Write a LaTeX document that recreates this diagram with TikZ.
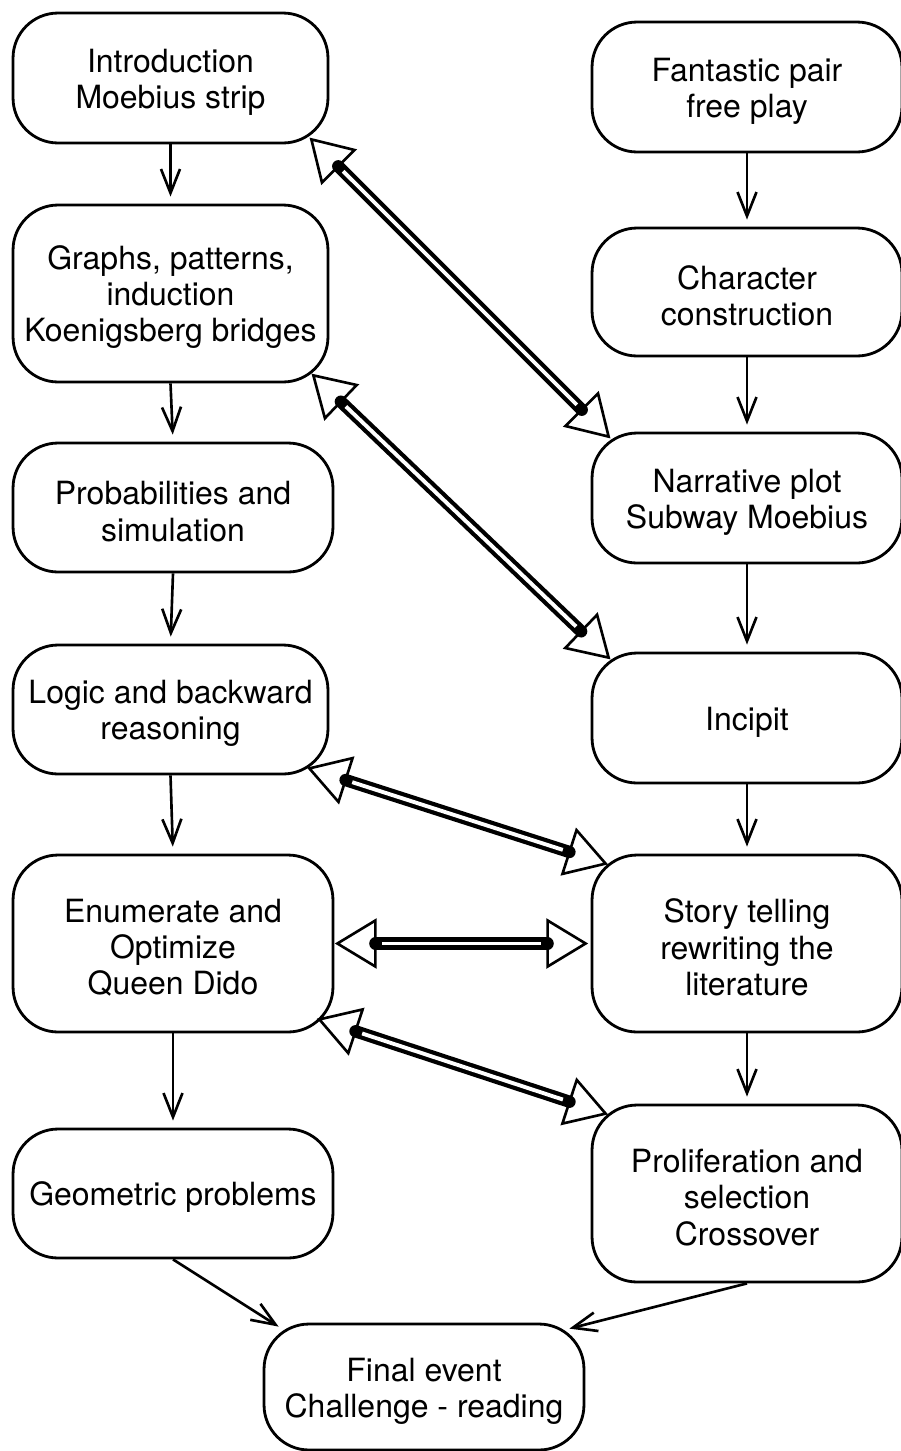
\documentclass[tikz,border=0pt]{standalone}
\usepackage{fontspec}
\setmainfont{TeX Gyre Heros}
\usetikzlibrary{arrows.meta,calc}
\newcommand{\tp}{\rule{0pt}{0.63cm}}
\newcommand{\dblarr}[2]{%
  \draw[dhead] (#1) -- ($(#1)!0.888cm!31.2:(#2)$) -- ($(#1)!0.888cm!-31.2:(#2)$) -- cycle;
  \draw[dhead] (#2) -- ($(#2)!0.888cm!31.2:(#1)$) -- ($(#2)!0.888cm!-31.2:(#1)$) -- cycle;
  \draw[dshaft] ($(#1)!0.76cm!(#2)$) -- ($(#2)!0.76cm!(#1)$);
  \draw[dinner] ($(#1)!0.9cm!(#2)$) -- ($(#2)!0.9cm!(#1)$);
}
\tikzset{
  box/.style={draw, line width=1.6pt, rounded corners=0.9cm, align=center, inner sep=0pt,
    font=\fontsize{18.2}{20.6}\selectfont},
  arr/.style={line width=1.5pt, -{Straight Barb[length=0.48cm,width=0.38cm]}, shorten >=0.14cm},
  arrd/.style={line width=1.5pt, -{Straight Barb[length=0.48cm,width=0.38cm]}},
  dhead/.style={draw, fill=white, line width=1.5pt, line join=miter},
  dshaft/.style={line width=7pt, line cap=round},
  dinner/.style={white, line width=2.2pt},
}
\begin{document}
\begin{tikzpicture}[x=0.02cm, y=-0.02cm]
\useasboundingbox (0,0) rectangle (901,1451);
% left column
\node[box, minimum width=6.3cm, minimum height=2.6cm] (intro) at (170.5,78) {\tp Introduction\\Moebius strip};
\node[box, minimum width=6.3cm, minimum height=3.54cm] (graphs) at (170.5,293.5) {\tp Graphs, patterns,\\induction\\Koenigsberg bridges};
\node[box, minimum width=6.4cm, minimum height=2.58cm] (prob) at (173,507.5) {\tp Probabilities and\\simulation};
\node[box, minimum width=6.3cm, minimum height=2.58cm] (logic) at (170.5,709.5) {\tp Logic and backward\\reasoning};
\node[box, minimum width=6.4cm, minimum height=3.54cm] (enum) at (173,943.5) {\tp Enumerate and\\Optimize\\Queen Dido};
\node[box, minimum width=6.4cm, minimum height=2.58cm] (geom) at (173,1193.5) {\tp Geometric problems};
% right column
\node[box, minimum width=6.2cm, minimum height=2.6cm] (fant) at (747,87) {\tp Fantastic pair\\free play};
\node[box, minimum width=6.2cm, minimum height=2.56cm] (char) at (747,292) {\tp Character\\construction};
\node[box, minimum width=6.2cm, minimum height=2.6cm] (narr) at (747,498) {\tp Narrative plot\\Subway Moebius};
\node[box, minimum width=6.2cm, minimum height=2.6cm] (incip) at (747,718) {\tp Incipit};
\node[box, minimum width=6.2cm, minimum height=3.54cm] (story) at (747,943.5) {\tp Story telling\\rewriting the\\literature};
\node[box, minimum width=6.2cm, minimum height=3.54cm] (prolif) at (747,1193.5) {\tp Proliferation and\\selection\\Crossover};
% final
\node[box, minimum width=6.4cm, minimum height=2.52cm] (final) at (424,1387) {\tp Final event\\Challenge - reading};
% simple arrows
\draw[arr] (intro.south) -- (graphs.north);
\draw[arr] (graphs.south) -- (prob.north);
\draw[arr] (prob.south) -- (logic.north);
\draw[arr] (logic.south) -- (enum.north);
\draw[arr] (enum.south) -- (geom.north);
\draw[arr] (fant.south) -- (char.north);
\draw[arr] (char.south) -- (narr.north);
\draw[arr] (narr.south) -- (incip.north);
\draw[arr] (incip.south) -- (story.north);
\draw[arr] (story.south) -- (prolif.north);
\draw[arrd] (geom.south) -- ([shift={(16,4)}]final.north west);
\draw[arrd] (prolif.south) -- ([shift={(-16,6)}]final.north east);
% double arrows
\coordinate (a1) at ([shift={(-18,-5)}]intro.south east);
\coordinate (b1) at ([shift={(18,5)}]narr.north west);
\coordinate (a2) at ([shift={(-16,-8)}]graphs.south east);
\coordinate (b2) at ([shift={(18,6)}]incip.north west);
\coordinate (a3) at ([shift={(-20,-7)}]logic.south east);
\coordinate (b3) at ([shift={(15,10)}]story.north west);
\coordinate (a4) at ([shift={(3,0)}]enum.east);
\coordinate (b4) at ([shift={(-5,0)}]story.west);
\coordinate (a5) at ([shift={(-15,-14)}]enum.south east);
\coordinate (b5) at ([shift={(15,10)}]prolif.north west);
\dblarr{a1}{b1}
\dblarr{a2}{b2}
\dblarr{a3}{b3}
\dblarr{a4}{b4}
\dblarr{a5}{b5}
\end{tikzpicture}
\end{document}
